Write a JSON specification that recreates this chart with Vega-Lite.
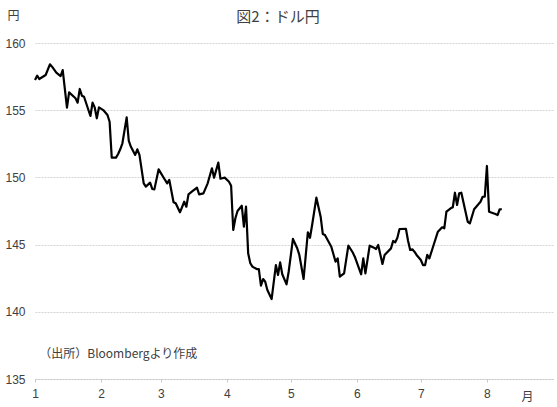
{
  "$schema": "https://vega.github.io/schema/vega-lite/v6.json",
  "width": 518,
  "height": 336,
  "autosize": "none",
  "padding": {"left": 35, "top": 43, "right": 4, "bottom": 28},
  "background": "white",
  "title": {
    "text": "図2：ドル円",
    "font": "Noto Sans CJK JP",
    "fontSize": 15,
    "fontWeight": "normal",
    "color": "#404040",
    "anchor": "middle",
    "dx": -16,
    "offset": -16
  },
  "config": {
    "view": {"stroke": null},
    "axis": {"labelFont": "Liberation Sans", "labelFontSize": 12, "labelColor": "#404040"}
  },
  "layer": [
    {
      "data": {
        "values": [
          {"date": "2025-01-01", "rate": 157.25},
          {"date": "2025-01-02", "rate": 157.57},
          {"date": "2025-01-03", "rate": 157.32},
          {"date": "2025-01-06", "rate": 157.62},
          {"date": "2025-01-08", "rate": 158.41},
          {"date": "2025-01-09", "rate": 158.24},
          {"date": "2025-01-11", "rate": 157.79},
          {"date": "2025-01-13", "rate": 157.54},
          {"date": "2025-01-14", "rate": 157.99},
          {"date": "2025-01-16", "rate": 155.19},
          {"date": "2025-01-17", "rate": 156.33},
          {"date": "2025-01-20", "rate": 155.89},
          {"date": "2025-01-21", "rate": 155.56},
          {"date": "2025-01-22", "rate": 156.58},
          {"date": "2025-01-23", "rate": 156.08},
          {"date": "2025-01-24", "rate": 156.0},
          {"date": "2025-01-27", "rate": 154.57},
          {"date": "2025-01-28", "rate": 155.56},
          {"date": "2025-01-29", "rate": 155.21},
          {"date": "2025-01-30", "rate": 154.4},
          {"date": "2025-01-31", "rate": 155.21},
          {"date": "2025-02-02", "rate": 155.01},
          {"date": "2025-02-04", "rate": 154.64},
          {"date": "2025-02-05", "rate": 154.14},
          {"date": "2025-02-06", "rate": 151.47},
          {"date": "2025-02-08", "rate": 151.47},
          {"date": "2025-02-09", "rate": 151.74},
          {"date": "2025-02-10", "rate": 152.09},
          {"date": "2025-02-11", "rate": 152.54},
          {"date": "2025-02-13", "rate": 154.47},
          {"date": "2025-02-14", "rate": 152.71},
          {"date": "2025-02-15", "rate": 152.28},
          {"date": "2025-02-17", "rate": 151.67},
          {"date": "2025-02-18", "rate": 152.09},
          {"date": "2025-02-19", "rate": 151.67},
          {"date": "2025-02-21", "rate": 149.56},
          {"date": "2025-02-22", "rate": 149.31},
          {"date": "2025-02-24", "rate": 149.61},
          {"date": "2025-02-25", "rate": 149.14},
          {"date": "2025-02-26", "rate": 149.11},
          {"date": "2025-02-28", "rate": 150.6},
          {"date": "2025-03-03", "rate": 149.81},
          {"date": "2025-03-04", "rate": 149.56},
          {"date": "2025-03-05", "rate": 149.81},
          {"date": "2025-03-07", "rate": 148.15},
          {"date": "2025-03-08", "rate": 148.07},
          {"date": "2025-03-10", "rate": 147.4},
          {"date": "2025-03-12", "rate": 148.19},
          {"date": "2025-03-13", "rate": 147.82},
          {"date": "2025-03-14", "rate": 148.74},
          {"date": "2025-03-16", "rate": 148.99},
          {"date": "2025-03-18", "rate": 149.23},
          {"date": "2025-03-19", "rate": 148.74},
          {"date": "2025-03-21", "rate": 148.81},
          {"date": "2025-03-23", "rate": 149.56},
          {"date": "2025-03-25", "rate": 150.68},
          {"date": "2025-03-26", "rate": 149.98},
          {"date": "2025-03-28", "rate": 151.1},
          {"date": "2025-03-29", "rate": 149.9},
          {"date": "2025-03-31", "rate": 149.98},
          {"date": "2025-04-02", "rate": 149.68},
          {"date": "2025-04-03", "rate": 149.38},
          {"date": "2025-04-04", "rate": 146.09},
          {"date": "2025-04-05", "rate": 146.96},
          {"date": "2025-04-06", "rate": 147.5},
          {"date": "2025-04-08", "rate": 147.89},
          {"date": "2025-04-09", "rate": 146.33},
          {"date": "2025-04-10", "rate": 147.82},
          {"date": "2025-04-11", "rate": 144.35},
          {"date": "2025-04-12", "rate": 143.61},
          {"date": "2025-04-13", "rate": 143.36},
          {"date": "2025-04-15", "rate": 143.18},
          {"date": "2025-04-16", "rate": 143.18},
          {"date": "2025-04-17", "rate": 141.94},
          {"date": "2025-04-18", "rate": 142.44},
          {"date": "2025-04-19", "rate": 142.24},
          {"date": "2025-04-20", "rate": 141.62},
          {"date": "2025-04-22", "rate": 140.95},
          {"date": "2025-04-24", "rate": 143.48},
          {"date": "2025-04-25", "rate": 142.74},
          {"date": "2025-04-26", "rate": 143.68},
          {"date": "2025-04-27", "rate": 142.79},
          {"date": "2025-04-29", "rate": 142.04},
          {"date": "2025-04-30", "rate": 142.98},
          {"date": "2025-05-02", "rate": 145.42},
          {"date": "2025-05-04", "rate": 144.73},
          {"date": "2025-05-05", "rate": 144.23},
          {"date": "2025-05-07", "rate": 142.44},
          {"date": "2025-05-09", "rate": 145.92},
          {"date": "2025-05-10", "rate": 145.51},
          {"date": "2025-05-11", "rate": 146.46},
          {"date": "2025-05-13", "rate": 148.49},
          {"date": "2025-05-15", "rate": 147.08},
          {"date": "2025-05-16", "rate": 145.79},
          {"date": "2025-05-17", "rate": 145.71},
          {"date": "2025-05-20", "rate": 144.84},
          {"date": "2025-05-21", "rate": 144.28},
          {"date": "2025-05-22", "rate": 143.73},
          {"date": "2025-05-23", "rate": 143.98},
          {"date": "2025-05-24", "rate": 142.61},
          {"date": "2025-05-26", "rate": 142.86},
          {"date": "2025-05-28", "rate": 144.92},
          {"date": "2025-05-30", "rate": 144.43},
          {"date": "2025-05-31", "rate": 144.1},
          {"date": "2025-06-03", "rate": 142.79},
          {"date": "2025-06-04", "rate": 143.98},
          {"date": "2025-06-05", "rate": 142.86},
          {"date": "2025-06-07", "rate": 144.92},
          {"date": "2025-06-09", "rate": 144.77},
          {"date": "2025-06-10", "rate": 144.67},
          {"date": "2025-06-11", "rate": 144.97},
          {"date": "2025-06-13", "rate": 143.56},
          {"date": "2025-06-14", "rate": 144.23},
          {"date": "2025-06-17", "rate": 144.72},
          {"date": "2025-06-18", "rate": 145.27},
          {"date": "2025-06-19", "rate": 145.17},
          {"date": "2025-06-20", "rate": 145.51},
          {"date": "2025-06-21", "rate": 146.16},
          {"date": "2025-06-24", "rate": 146.18},
          {"date": "2025-06-25", "rate": 145.29},
          {"date": "2025-06-26", "rate": 144.6},
          {"date": "2025-06-27", "rate": 144.65},
          {"date": "2025-06-28", "rate": 144.47},
          {"date": "2025-06-29", "rate": 144.23},
          {"date": "2025-07-01", "rate": 143.85},
          {"date": "2025-07-02", "rate": 143.48},
          {"date": "2025-07-03", "rate": 143.48},
          {"date": "2025-07-04", "rate": 144.23},
          {"date": "2025-07-05", "rate": 143.98},
          {"date": "2025-07-07", "rate": 144.97},
          {"date": "2025-07-09", "rate": 145.96},
          {"date": "2025-07-11", "rate": 146.29},
          {"date": "2025-07-12", "rate": 146.21},
          {"date": "2025-07-13", "rate": 147.45},
          {"date": "2025-07-15", "rate": 147.7},
          {"date": "2025-07-16", "rate": 147.78},
          {"date": "2025-07-17", "rate": 148.86},
          {"date": "2025-07-18", "rate": 147.95},
          {"date": "2025-07-19", "rate": 148.82},
          {"date": "2025-07-20", "rate": 148.86},
          {"date": "2025-07-23", "rate": 146.7},
          {"date": "2025-07-24", "rate": 146.58},
          {"date": "2025-07-26", "rate": 147.63},
          {"date": "2025-07-29", "rate": 148.19},
          {"date": "2025-07-30", "rate": 148.56},
          {"date": "2025-07-31", "rate": 148.56},
          {"date": "2025-08-01", "rate": 150.85},
          {"date": "2025-08-02", "rate": 147.45},
          {"date": "2025-08-05", "rate": 147.28},
          {"date": "2025-08-06", "rate": 147.2},
          {"date": "2025-08-07", "rate": 147.63},
          {"date": "2025-08-08", "rate": 147.63}
        ]
      },
      "mark": {"type": "line", "color": "black", "strokeWidth": 2.2, "strokeJoin": "round"},
      "encoding": {
        "x": {
          "field": "date",
          "type": "temporal",
          "scale": {
            "type": "utc",
            "domain": [
              {"year": 2025, "month": 1, "date": 1, "utc": true},
              {"year": 2025, "month": 9, "date": 1, "utc": true}
            ]
          },
          "axis": {
            "values": [
              {"year": 2025, "month": 1, "date": 1, "utc": true},
              {"year": 2025, "month": 2, "date": 1, "utc": true},
              {"year": 2025, "month": 3, "date": 1, "utc": true},
              {"year": 2025, "month": 4, "date": 1, "utc": true},
              {"year": 2025, "month": 5, "date": 1, "utc": true},
              {"year": 2025, "month": 6, "date": 1, "utc": true},
              {"year": 2025, "month": 7, "date": 1, "utc": true},
              {"year": 2025, "month": 8, "date": 1, "utc": true}
            ],
            "format": "%-m",
            "grid": false,
            "domainColor": "#c8c8c8",
            "domainDash": [2, 1],
            "tickColor": "#c8c8c8",
            "tickSize": 3,
            "labelPadding": 6,
            "labelFlush": false,
            "labelOverlap": false,
            "title": "月",
            "titleFont": "Noto Sans CJK JP",
            "titleFontSize": 12,
            "titleFontWeight": "normal",
            "titleColor": "#404040",
            "titleX": 492,
            "titleY": 17,
            "titleAlign": "center",
            "titleBaseline": "middle"
          }
        },
        "y": {
          "field": "rate",
          "type": "quantitative",
          "scale": {"domain": [135, 160], "zero": false, "nice": false},
          "axis": {
            "values": [135, 140, 145, 150, 155, 160],
            "domain": false,
            "ticks": false,
            "labelPadding": 10,
            "grid": true,
            "gridColor": "#d4d4d4",
            "gridDash": [2, 1],
            "gridWidth": 1,
            "title": "円",
            "titleFont": "Noto Sans CJK JP",
            "titleFontSize": 12,
            "titleFontWeight": "normal",
            "titleColor": "#404040",
            "titleAngle": 0,
            "titleX": -28,
            "titleY": -28,
            "titleAlign": "left",
            "titleBaseline": "middle"
          }
        }
      }
    },
    {
      "data": {"values": [{"note": "（出所）Bloombergより作成"}]},
      "mark": {
        "type": "text",
        "align": "left",
        "baseline": "middle",
        "font": "Noto Sans CJK JP",
        "fontSize": 12,
        "color": "#404040"
      },
      "encoding": {
        "x": {"datum": {"year": 2025, "month": 1, "date": 3, "utc": true}, "type": "temporal"},
        "y": {"datum": 136.86, "type": "quantitative"},
        "text": {"field": "note", "type": "nominal"}
      }
    }
  ]
}
